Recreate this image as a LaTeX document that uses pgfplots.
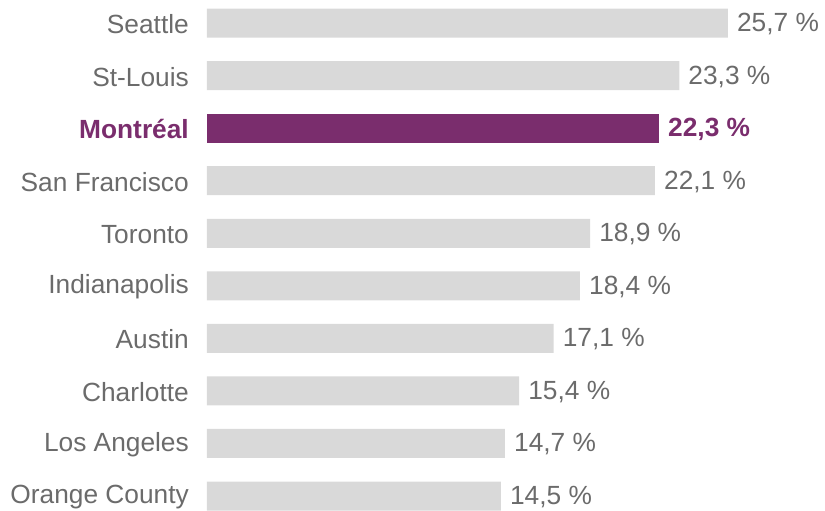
\documentclass[border=0pt]{standalone}
\usepackage{pgfplots}
\pgfplotsset{compat=1.18}
\usepackage{fontspec}
\setmainfont{Liberation Sans}
\definecolor{txtgray}{HTML}{6B6B6B}
\definecolor{bargray}{HTML}{D9D9D9}
\definecolor{mtlpurple}{HTML}{7A2D6D}
\begin{document}
\begin{tikzpicture}
\begin{axis}[
  name=main,
  scale only axis,
  width=618pt, height=511pt,
  xmin=0, xmax=30.49,
  ymin=-0.285, ymax=9.44,
  axis lines=none,
  xbar, bar width=29pt, bar shift=0pt,
  clip=false,
  /pgf/number format/assume math mode=true,
  nodes near coords={\pgfmathprintnumber[fixed,fixed zerofill,precision=1,use comma,assume math mode=true]{\pgfplotspointmeta}~\%},
  nodes near coords align=horizontal,
  every node near coord/.append style={anchor=west, inner sep=0pt, xshift=9pt, yshift=-1pt, font=\fontsize{26.3}{30}\selectfont, text=txtgray},
]
\addplot[fill=bargray, draw=none] coordinates {
 (14.5,0) (14.7,1) (15.4,2) (17.1,3) (18.4,4) (18.9,5) (22.1,6) (23.3,8) (25.7,9)};
\addplot[fill=mtlpurple, draw=none, every node near coord/.append style={text=mtlpurple, font=\fontsize{26.3}{30}\selectfont\bfseries}] coordinates {(22.3,7)};
\end{axis}
\begin{axis}[
  scale only axis,
  width=618pt, height=511pt,
  xmin=0, xmax=30.49,
  ymin=-0.285, ymax=9.44,
  axis line style={draw=none},
  hide x axis,
  major tick length=0pt,
  ytick={0,...,9},
  yticklabels={Orange County,Los Angeles,Charlotte,Austin,Indianapolis,Toronto,San Francisco,{\color{mtlpurple}\bfseries Montréal},St-Louis,Seattle},
  yticklabel style={anchor=east, inner sep=0pt, xshift=-18pt, yshift=-1pt, font=\fontsize{26.3}{30}\selectfont, text=txtgray},
]
\addplot[draw=none] coordinates {(0,0)};
\end{axis}
\pgfresetboundingbox
\path ([xshift=-207pt]main.south west) rectangle (main.north east);
\end{tikzpicture}
\end{document}
